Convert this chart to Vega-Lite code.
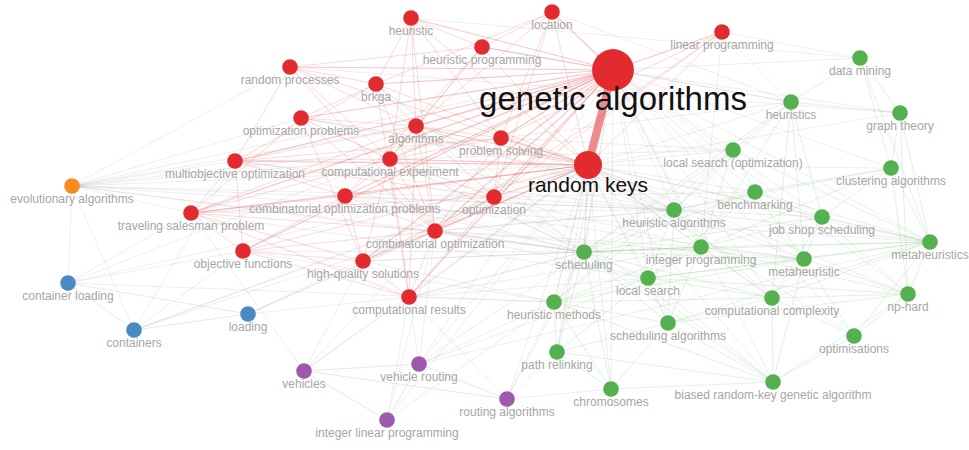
{
  "$schema": "https://vega.github.io/schema/vega-lite/v6.json",
  "width": 969,
  "height": 450,
  "autosize": {"type": "fit", "contains": "padding"},
  "padding": 0,
  "background": "white",
  "config": {"view": {"stroke": null}},
  "datasets": {
    "nodes": [
      {"n": "genetic algorithms", "c": "1", "x": 613, "y": 70, "w": 100},
      {"n": "random keys", "c": "1", "x": 588, "y": 165, "w": 45},
      {"n": "heuristic", "c": "1", "x": 411, "y": 18, "w": 14},
      {"n": "location", "c": "1", "x": 552, "y": 12, "w": 14},
      {"n": "heuristic programming", "c": "1", "x": 482, "y": 47, "w": 14},
      {"n": "linear programming", "c": "1", "x": 722, "y": 32, "w": 14},
      {"n": "random processes", "c": "1", "x": 290, "y": 67, "w": 14},
      {"n": "brkga", "c": "1", "x": 376, "y": 84, "w": 14},
      {"n": "optimization problems", "c": "1", "x": 301, "y": 118, "w": 14},
      {"n": "algorithms", "c": "1", "x": 416, "y": 126, "w": 14},
      {"n": "problem solving", "c": "1", "x": 501, "y": 138, "w": 14},
      {"n": "multiobjective optimization", "c": "1", "x": 235, "y": 161, "w": 14},
      {"n": "computational experiment", "c": "1", "x": 390, "y": 159, "w": 14},
      {"n": "optimization", "c": "1", "x": 494, "y": 197, "w": 14},
      {"n": "combinatorial optimization problems", "c": "1", "x": 345, "y": 196, "w": 14},
      {"n": "traveling salesman problem", "c": "1", "x": 191, "y": 213, "w": 14},
      {"n": "combinatorial optimization", "c": "1", "x": 435, "y": 231, "w": 14},
      {"n": "objective functions", "c": "1", "x": 243, "y": 251, "w": 14},
      {"n": "high-quality solutions", "c": "1", "x": 363, "y": 261, "w": 14},
      {"n": "computational results", "c": "1", "x": 409, "y": 297, "w": 14},
      {"n": "evolutionary algorithms", "c": "5", "x": 72, "y": 186, "w": 14},
      {"n": "container loading", "c": "3", "x": 68, "y": 283, "w": 14},
      {"n": "containers", "c": "3", "x": 134, "y": 330, "w": 14},
      {"n": "loading", "c": "3", "x": 248, "y": 314, "w": 14},
      {"n": "vehicles", "c": "4", "x": 304, "y": 371, "w": 14},
      {"n": "vehicle routing", "c": "4", "x": 419, "y": 364, "w": 14},
      {"n": "integer linear programming", "c": "4", "x": 387, "y": 420, "w": 14},
      {"n": "routing algorithms", "c": "4", "x": 507, "y": 399, "w": 14},
      {"n": "data mining", "c": "2", "x": 860, "y": 58, "w": 14},
      {"n": "heuristics", "c": "2", "x": 791, "y": 102, "w": 14},
      {"n": "graph theory", "c": "2", "x": 900, "y": 113, "w": 14},
      {"n": "local search (optimization)", "c": "2", "x": 733, "y": 150, "w": 14},
      {"n": "clustering algorithms", "c": "2", "x": 891, "y": 168, "w": 14},
      {"n": "benchmarking", "c": "2", "x": 755, "y": 192, "w": 14},
      {"n": "heuristic algorithms", "c": "2", "x": 674, "y": 210, "w": 14},
      {"n": "job shop scheduling", "c": "2", "x": 822, "y": 217, "w": 14},
      {"n": "metaheuristics", "c": "2", "x": 930, "y": 242, "w": 14},
      {"n": "scheduling", "c": "2", "x": 584, "y": 252, "w": 14},
      {"n": "integer programming", "c": "2", "x": 701, "y": 247, "w": 14},
      {"n": "metaheuristic", "c": "2", "x": 804, "y": 259, "w": 14},
      {"n": "local search", "c": "2", "x": 648, "y": 278, "w": 14},
      {"n": "np-hard", "c": "2", "x": 908, "y": 294, "w": 14},
      {"n": "heuristic methods", "c": "2", "x": 554, "y": 302, "w": 14},
      {"n": "computational complexity", "c": "2", "x": 772, "y": 298, "w": 14},
      {"n": "scheduling algorithms", "c": "2", "x": 668, "y": 323, "w": 14},
      {"n": "optimisations", "c": "2", "x": 854, "y": 336, "w": 14},
      {"n": "path relinking", "c": "2", "x": 557, "y": 352, "w": 14},
      {"n": "chromosomes", "c": "2", "x": 611, "y": 389, "w": 14},
      {"n": "biased random-key genetic algorithm", "c": "2", "x": 773, "y": 382, "w": 14}
    ],
    "edges": [
      {"s": "genetic algorithms", "t": "random keys", "w": 20},
      {"s": "genetic algorithms", "t": "heuristic", "w": 2},
      {"s": "genetic algorithms", "t": "location", "w": 2},
      {"s": "genetic algorithms", "t": "heuristic programming", "w": 2},
      {"s": "genetic algorithms", "t": "linear programming", "w": 2},
      {"s": "genetic algorithms", "t": "random processes", "w": 2},
      {"s": "genetic algorithms", "t": "brkga", "w": 2},
      {"s": "genetic algorithms", "t": "optimization problems", "w": 2},
      {"s": "genetic algorithms", "t": "algorithms", "w": 3},
      {"s": "genetic algorithms", "t": "problem solving", "w": 2},
      {"s": "genetic algorithms", "t": "multiobjective optimization", "w": 2},
      {"s": "genetic algorithms", "t": "computational experiment", "w": 2},
      {"s": "genetic algorithms", "t": "optimization", "w": 2},
      {"s": "genetic algorithms", "t": "combinatorial optimization problems", "w": 2},
      {"s": "genetic algorithms", "t": "traveling salesman problem", "w": 2},
      {"s": "genetic algorithms", "t": "combinatorial optimization", "w": 2},
      {"s": "genetic algorithms", "t": "objective functions", "w": 2},
      {"s": "genetic algorithms", "t": "high-quality solutions", "w": 2},
      {"s": "genetic algorithms", "t": "computational results", "w": 2},
      {"s": "random keys", "t": "heuristic", "w": 1},
      {"s": "random keys", "t": "location", "w": 1},
      {"s": "random keys", "t": "heuristic programming", "w": 1},
      {"s": "random keys", "t": "linear programming", "w": 1},
      {"s": "random keys", "t": "random processes", "w": 1},
      {"s": "random keys", "t": "brkga", "w": 1},
      {"s": "random keys", "t": "optimization problems", "w": 1},
      {"s": "random keys", "t": "algorithms", "w": 2},
      {"s": "random keys", "t": "problem solving", "w": 2},
      {"s": "random keys", "t": "multiobjective optimization", "w": 2},
      {"s": "random keys", "t": "computational experiment", "w": 2},
      {"s": "random keys", "t": "optimization", "w": 2},
      {"s": "random keys", "t": "combinatorial optimization problems", "w": 2},
      {"s": "random keys", "t": "traveling salesman problem", "w": 2},
      {"s": "random keys", "t": "combinatorial optimization", "w": 2},
      {"s": "random keys", "t": "objective functions", "w": 1},
      {"s": "random keys", "t": "high-quality solutions", "w": 1},
      {"s": "random keys", "t": "computational results", "w": 1},
      {"s": "heuristic", "t": "heuristic programming", "w": 1},
      {"s": "heuristic", "t": "algorithms", "w": 1},
      {"s": "heuristic", "t": "brkga", "w": 1},
      {"s": "heuristic", "t": "problem solving", "w": 1},
      {"s": "heuristic", "t": "combinatorial optimization", "w": 1},
      {"s": "heuristic", "t": "computational experiment", "w": 1},
      {"s": "location", "t": "heuristic programming", "w": 1},
      {"s": "location", "t": "algorithms", "w": 1},
      {"s": "location", "t": "problem solving", "w": 1},
      {"s": "location", "t": "brkga", "w": 1},
      {"s": "location", "t": "optimization", "w": 1},
      {"s": "heuristic programming", "t": "algorithms", "w": 1},
      {"s": "heuristic programming", "t": "computational experiment", "w": 1},
      {"s": "heuristic programming", "t": "combinatorial optimization problems", "w": 1},
      {"s": "heuristic programming", "t": "random processes", "w": 1},
      {"s": "linear programming", "t": "optimization", "w": 1},
      {"s": "linear programming", "t": "combinatorial optimization", "w": 1},
      {"s": "linear programming", "t": "problem solving", "w": 1},
      {"s": "random processes", "t": "brkga", "w": 1},
      {"s": "random processes", "t": "algorithms", "w": 1},
      {"s": "random processes", "t": "multiobjective optimization", "w": 1},
      {"s": "random processes", "t": "combinatorial optimization", "w": 1},
      {"s": "random processes", "t": "computational experiment", "w": 1},
      {"s": "brkga", "t": "algorithms", "w": 1},
      {"s": "brkga", "t": "optimization problems", "w": 1},
      {"s": "brkga", "t": "combinatorial optimization", "w": 1},
      {"s": "brkga", "t": "computational results", "w": 1},
      {"s": "brkga", "t": "multiobjective optimization", "w": 1},
      {"s": "optimization problems", "t": "algorithms", "w": 1},
      {"s": "optimization problems", "t": "computational experiment", "w": 1},
      {"s": "optimization problems", "t": "traveling salesman problem", "w": 1},
      {"s": "optimization problems", "t": "combinatorial optimization", "w": 1},
      {"s": "optimization problems", "t": "high-quality solutions", "w": 1},
      {"s": "algorithms", "t": "problem solving", "w": 1},
      {"s": "algorithms", "t": "computational experiment", "w": 1},
      {"s": "algorithms", "t": "optimization", "w": 1},
      {"s": "algorithms", "t": "combinatorial optimization", "w": 1},
      {"s": "algorithms", "t": "traveling salesman problem", "w": 1},
      {"s": "algorithms", "t": "multiobjective optimization", "w": 1},
      {"s": "algorithms", "t": "computational results", "w": 1},
      {"s": "problem solving", "t": "computational experiment", "w": 1},
      {"s": "problem solving", "t": "optimization", "w": 1},
      {"s": "problem solving", "t": "combinatorial optimization", "w": 1},
      {"s": "problem solving", "t": "multiobjective optimization", "w": 1},
      {"s": "multiobjective optimization", "t": "computational experiment", "w": 1},
      {"s": "multiobjective optimization", "t": "traveling salesman problem", "w": 1},
      {"s": "multiobjective optimization", "t": "combinatorial optimization problems", "w": 1},
      {"s": "multiobjective optimization", "t": "objective functions", "w": 1},
      {"s": "multiobjective optimization", "t": "optimization", "w": 1},
      {"s": "computational experiment", "t": "combinatorial optimization problems", "w": 1},
      {"s": "computational experiment", "t": "optimization", "w": 1},
      {"s": "computational experiment", "t": "combinatorial optimization", "w": 1},
      {"s": "computational experiment", "t": "high-quality solutions", "w": 1},
      {"s": "computational experiment", "t": "computational results", "w": 1},
      {"s": "computational experiment", "t": "traveling salesman problem", "w": 1},
      {"s": "optimization", "t": "combinatorial optimization", "w": 1},
      {"s": "optimization", "t": "computational results", "w": 1},
      {"s": "optimization", "t": "high-quality solutions", "w": 1},
      {"s": "optimization", "t": "traveling salesman problem", "w": 1},
      {"s": "combinatorial optimization problems", "t": "traveling salesman problem", "w": 1},
      {"s": "combinatorial optimization problems", "t": "combinatorial optimization", "w": 1},
      {"s": "combinatorial optimization problems", "t": "objective functions", "w": 1},
      {"s": "combinatorial optimization problems", "t": "high-quality solutions", "w": 1},
      {"s": "traveling salesman problem", "t": "combinatorial optimization", "w": 1},
      {"s": "traveling salesman problem", "t": "objective functions", "w": 1},
      {"s": "traveling salesman problem", "t": "computational results", "w": 1},
      {"s": "traveling salesman problem", "t": "high-quality solutions", "w": 1},
      {"s": "combinatorial optimization", "t": "high-quality solutions", "w": 1},
      {"s": "combinatorial optimization", "t": "computational results", "w": 1},
      {"s": "combinatorial optimization", "t": "objective functions", "w": 1},
      {"s": "objective functions", "t": "high-quality solutions", "w": 1},
      {"s": "objective functions", "t": "computational results", "w": 1},
      {"s": "high-quality solutions", "t": "computational results", "w": 1},
      {"s": "genetic algorithms", "t": "data mining", "w": 1},
      {"s": "genetic algorithms", "t": "heuristics", "w": 1},
      {"s": "genetic algorithms", "t": "graph theory", "w": 1},
      {"s": "genetic algorithms", "t": "local search (optimization)", "w": 1},
      {"s": "genetic algorithms", "t": "clustering algorithms", "w": 1},
      {"s": "genetic algorithms", "t": "benchmarking", "w": 1},
      {"s": "genetic algorithms", "t": "heuristic algorithms", "w": 1},
      {"s": "genetic algorithms", "t": "job shop scheduling", "w": 1},
      {"s": "genetic algorithms", "t": "metaheuristics", "w": 1},
      {"s": "genetic algorithms", "t": "scheduling", "w": 2},
      {"s": "genetic algorithms", "t": "integer programming", "w": 1},
      {"s": "genetic algorithms", "t": "metaheuristic", "w": 1},
      {"s": "genetic algorithms", "t": "local search", "w": 1},
      {"s": "genetic algorithms", "t": "np-hard", "w": 1},
      {"s": "genetic algorithms", "t": "heuristic methods", "w": 1},
      {"s": "genetic algorithms", "t": "computational complexity", "w": 1},
      {"s": "genetic algorithms", "t": "scheduling algorithms", "w": 1},
      {"s": "genetic algorithms", "t": "optimisations", "w": 1},
      {"s": "genetic algorithms", "t": "path relinking", "w": 1},
      {"s": "genetic algorithms", "t": "chromosomes", "w": 1},
      {"s": "genetic algorithms", "t": "biased random-key genetic algorithm", "w": 1},
      {"s": "genetic algorithms", "t": "evolutionary algorithms", "w": 1},
      {"s": "genetic algorithms", "t": "vehicle routing", "w": 1},
      {"s": "genetic algorithms", "t": "container loading", "w": 1},
      {"s": "random keys", "t": "heuristics", "w": 1},
      {"s": "random keys", "t": "local search (optimization)", "w": 1},
      {"s": "random keys", "t": "clustering algorithms", "w": 1},
      {"s": "random keys", "t": "benchmarking", "w": 1},
      {"s": "random keys", "t": "heuristic algorithms", "w": 2},
      {"s": "random keys", "t": "job shop scheduling", "w": 1},
      {"s": "random keys", "t": "metaheuristics", "w": 1},
      {"s": "random keys", "t": "scheduling", "w": 2},
      {"s": "random keys", "t": "integer programming", "w": 1},
      {"s": "random keys", "t": "metaheuristic", "w": 1},
      {"s": "random keys", "t": "local search", "w": 1},
      {"s": "random keys", "t": "np-hard", "w": 1},
      {"s": "random keys", "t": "heuristic methods", "w": 1},
      {"s": "random keys", "t": "computational complexity", "w": 1},
      {"s": "random keys", "t": "scheduling algorithms", "w": 1},
      {"s": "random keys", "t": "optimisations", "w": 1},
      {"s": "random keys", "t": "path relinking", "w": 1},
      {"s": "random keys", "t": "chromosomes", "w": 1},
      {"s": "random keys", "t": "biased random-key genetic algorithm", "w": 1},
      {"s": "random keys", "t": "evolutionary algorithms", "w": 1},
      {"s": "random keys", "t": "container loading", "w": 1},
      {"s": "random keys", "t": "containers", "w": 1},
      {"s": "random keys", "t": "loading", "w": 1},
      {"s": "random keys", "t": "vehicles", "w": 1},
      {"s": "random keys", "t": "vehicle routing", "w": 1},
      {"s": "random keys", "t": "integer linear programming", "w": 1},
      {"s": "random keys", "t": "routing algorithms", "w": 1},
      {"s": "random keys", "t": "graph theory", "w": 1},
      {"s": "evolutionary algorithms", "t": "multiobjective optimization", "w": 1},
      {"s": "evolutionary algorithms", "t": "traveling salesman problem", "w": 1},
      {"s": "evolutionary algorithms", "t": "optimization problems", "w": 1},
      {"s": "evolutionary algorithms", "t": "algorithms", "w": 1},
      {"s": "evolutionary algorithms", "t": "computational experiment", "w": 1},
      {"s": "evolutionary algorithms", "t": "random processes", "w": 1},
      {"s": "evolutionary algorithms", "t": "container loading", "w": 1},
      {"s": "evolutionary algorithms", "t": "containers", "w": 1},
      {"s": "evolutionary algorithms", "t": "combinatorial optimization", "w": 1},
      {"s": "evolutionary algorithms", "t": "scheduling", "w": 1},
      {"s": "evolutionary algorithms", "t": "heuristic algorithms", "w": 1},
      {"s": "evolutionary algorithms", "t": "metaheuristics", "w": 1},
      {"s": "evolutionary algorithms", "t": "problem solving", "w": 1},
      {"s": "evolutionary algorithms", "t": "optimization", "w": 1},
      {"s": "container loading", "t": "traveling salesman problem", "w": 1},
      {"s": "container loading", "t": "objective functions", "w": 1},
      {"s": "containers", "t": "objective functions", "w": 1},
      {"s": "containers", "t": "combinatorial optimization", "w": 1},
      {"s": "containers", "t": "multiobjective optimization", "w": 1},
      {"s": "containers", "t": "optimization", "w": 1},
      {"s": "loading", "t": "combinatorial optimization", "w": 1},
      {"s": "loading", "t": "computational results", "w": 1},
      {"s": "loading", "t": "optimization", "w": 1},
      {"s": "container loading", "t": "heuristic methods", "w": 1},
      {"s": "vehicles", "t": "high-quality solutions", "w": 1},
      {"s": "vehicles", "t": "combinatorial optimization", "w": 1},
      {"s": "vehicles", "t": "computational results", "w": 1},
      {"s": "vehicles", "t": "traveling salesman problem", "w": 1},
      {"s": "vehicle routing", "t": "computational results", "w": 1},
      {"s": "vehicle routing", "t": "combinatorial optimization", "w": 1},
      {"s": "vehicle routing", "t": "heuristic methods", "w": 1},
      {"s": "vehicle routing", "t": "scheduling", "w": 1},
      {"s": "vehicle routing", "t": "local search", "w": 1},
      {"s": "vehicle routing", "t": "metaheuristics", "w": 1},
      {"s": "routing algorithms", "t": "computational results", "w": 1},
      {"s": "routing algorithms", "t": "heuristic methods", "w": 1},
      {"s": "routing algorithms", "t": "path relinking", "w": 1},
      {"s": "routing algorithms", "t": "scheduling", "w": 1},
      {"s": "routing algorithms", "t": "chromosomes", "w": 1},
      {"s": "integer linear programming", "t": "computational results", "w": 1},
      {"s": "integer linear programming", "t": "combinatorial optimization", "w": 1},
      {"s": "integer linear programming", "t": "heuristic methods", "w": 1},
      {"s": "combinatorial optimization", "t": "scheduling", "w": 3},
      {"s": "combinatorial optimization", "t": "heuristic algorithms", "w": 2},
      {"s": "combinatorial optimization", "t": "integer programming", "w": 1},
      {"s": "combinatorial optimization", "t": "metaheuristic", "w": 1},
      {"s": "combinatorial optimization", "t": "local search", "w": 1},
      {"s": "computational results", "t": "scheduling", "w": 2},
      {"s": "computational results", "t": "heuristic methods", "w": 1},
      {"s": "computational results", "t": "local search", "w": 1},
      {"s": "computational results", "t": "integer programming", "w": 1},
      {"s": "optimization", "t": "scheduling", "w": 1},
      {"s": "optimization", "t": "heuristic algorithms", "w": 1},
      {"s": "optimization", "t": "benchmarking", "w": 1},
      {"s": "problem solving", "t": "local search (optimization)", "w": 1},
      {"s": "problem solving", "t": "heuristics", "w": 1},
      {"s": "problem solving", "t": "heuristic algorithms", "w": 1},
      {"s": "algorithms", "t": "scheduling", "w": 1},
      {"s": "algorithms", "t": "heuristic algorithms", "w": 1},
      {"s": "computational experiment", "t": "heuristic algorithms", "w": 1},
      {"s": "computational experiment", "t": "scheduling", "w": 1},
      {"s": "computational experiment", "t": "local search (optimization)", "w": 1},
      {"s": "high-quality solutions", "t": "scheduling", "w": 1},
      {"s": "high-quality solutions", "t": "heuristic methods", "w": 1},
      {"s": "high-quality solutions", "t": "integer programming", "w": 1},
      {"s": "combinatorial optimization problems", "t": "scheduling", "w": 1},
      {"s": "combinatorial optimization problems", "t": "metaheuristic", "w": 1},
      {"s": "combinatorial optimization problems", "t": "heuristic algorithms", "w": 1},
      {"s": "traveling salesman problem", "t": "heuristic algorithms", "w": 1},
      {"s": "traveling salesman problem", "t": "local search", "w": 1},
      {"s": "multiobjective optimization", "t": "scheduling", "w": 1},
      {"s": "multiobjective optimization", "t": "heuristic algorithms", "w": 1},
      {"s": "optimization problems", "t": "metaheuristics", "w": 1},
      {"s": "optimization problems", "t": "scheduling", "w": 1},
      {"s": "linear programming", "t": "heuristics", "w": 1},
      {"s": "linear programming", "t": "data mining", "w": 1},
      {"s": "linear programming", "t": "integer programming", "w": 1},
      {"s": "heuristic programming", "t": "heuristics", "w": 1},
      {"s": "location", "t": "heuristics", "w": 1},
      {"s": "heuristic", "t": "data mining", "w": 1},
      {"s": "brkga", "t": "scheduling", "w": 1},
      {"s": "brkga", "t": "biased random-key genetic algorithm", "w": 1},
      {"s": "objective functions", "t": "scheduling", "w": 1},
      {"s": "objective functions", "t": "heuristic methods", "w": 1},
      {"s": "random processes", "t": "graph theory", "w": 1},
      {"s": "optimization", "t": "integer programming", "w": 1},
      {"s": "algorithms", "t": "metaheuristic", "w": 1},
      {"s": "data mining", "t": "heuristics", "w": 1},
      {"s": "data mining", "t": "graph theory", "w": 1},
      {"s": "data mining", "t": "clustering algorithms", "w": 1},
      {"s": "data mining", "t": "metaheuristics", "w": 1},
      {"s": "heuristics", "t": "graph theory", "w": 1},
      {"s": "heuristics", "t": "local search (optimization)", "w": 1},
      {"s": "heuristics", "t": "heuristic algorithms", "w": 1},
      {"s": "heuristics", "t": "integer programming", "w": 1},
      {"s": "heuristics", "t": "scheduling", "w": 1},
      {"s": "heuristics", "t": "metaheuristic", "w": 1},
      {"s": "heuristics", "t": "computational complexity", "w": 1},
      {"s": "heuristics", "t": "job shop scheduling", "w": 1},
      {"s": "graph theory", "t": "clustering algorithms", "w": 1},
      {"s": "graph theory", "t": "metaheuristics", "w": 1},
      {"s": "graph theory", "t": "np-hard", "w": 1},
      {"s": "local search (optimization)", "t": "benchmarking", "w": 1},
      {"s": "local search (optimization)", "t": "heuristic algorithms", "w": 1},
      {"s": "local search (optimization)", "t": "scheduling", "w": 1},
      {"s": "local search (optimization)", "t": "integer programming", "w": 1},
      {"s": "local search (optimization)", "t": "metaheuristics", "w": 1},
      {"s": "local search (optimization)", "t": "heuristic methods", "w": 1},
      {"s": "clustering algorithms", "t": "benchmarking", "w": 1},
      {"s": "clustering algorithms", "t": "job shop scheduling", "w": 1},
      {"s": "clustering algorithms", "t": "metaheuristics", "w": 1},
      {"s": "clustering algorithms", "t": "heuristic algorithms", "w": 1},
      {"s": "clustering algorithms", "t": "np-hard", "w": 1},
      {"s": "clustering algorithms", "t": "integer programming", "w": 1},
      {"s": "benchmarking", "t": "heuristic algorithms", "w": 1},
      {"s": "benchmarking", "t": "job shop scheduling", "w": 1},
      {"s": "benchmarking", "t": "metaheuristic", "w": 1},
      {"s": "benchmarking", "t": "scheduling", "w": 1},
      {"s": "benchmarking", "t": "local search", "w": 1},
      {"s": "benchmarking", "t": "metaheuristics", "w": 1},
      {"s": "heuristic algorithms", "t": "scheduling", "w": 1},
      {"s": "heuristic algorithms", "t": "integer programming", "w": 1},
      {"s": "heuristic algorithms", "t": "job shop scheduling", "w": 1},
      {"s": "heuristic algorithms", "t": "metaheuristics", "w": 1},
      {"s": "heuristic algorithms", "t": "local search", "w": 1},
      {"s": "heuristic algorithms", "t": "heuristic methods", "w": 1},
      {"s": "heuristic algorithms", "t": "scheduling algorithms", "w": 1},
      {"s": "heuristic algorithms", "t": "computational complexity", "w": 1},
      {"s": "job shop scheduling", "t": "metaheuristics", "w": 1},
      {"s": "job shop scheduling", "t": "metaheuristic", "w": 1},
      {"s": "job shop scheduling", "t": "scheduling", "w": 1},
      {"s": "job shop scheduling", "t": "integer programming", "w": 1},
      {"s": "job shop scheduling", "t": "np-hard", "w": 1},
      {"s": "job shop scheduling", "t": "computational complexity", "w": 1},
      {"s": "metaheuristics", "t": "scheduling", "w": 1},
      {"s": "metaheuristics", "t": "integer programming", "w": 1},
      {"s": "metaheuristics", "t": "metaheuristic", "w": 1},
      {"s": "metaheuristics", "t": "np-hard", "w": 1},
      {"s": "metaheuristics", "t": "local search", "w": 1},
      {"s": "metaheuristics", "t": "computational complexity", "w": 1},
      {"s": "metaheuristics", "t": "optimisations", "w": 1},
      {"s": "metaheuristics", "t": "scheduling algorithms", "w": 1},
      {"s": "scheduling", "t": "integer programming", "w": 2},
      {"s": "scheduling", "t": "local search", "w": 1},
      {"s": "scheduling", "t": "heuristic methods", "w": 1},
      {"s": "scheduling", "t": "metaheuristic", "w": 1},
      {"s": "scheduling", "t": "scheduling algorithms", "w": 1},
      {"s": "scheduling", "t": "path relinking", "w": 1},
      {"s": "scheduling", "t": "chromosomes", "w": 1},
      {"s": "scheduling", "t": "biased random-key genetic algorithm", "w": 1},
      {"s": "scheduling", "t": "computational complexity", "w": 1},
      {"s": "integer programming", "t": "metaheuristic", "w": 1},
      {"s": "integer programming", "t": "local search", "w": 1},
      {"s": "integer programming", "t": "computational complexity", "w": 1},
      {"s": "integer programming", "t": "scheduling algorithms", "w": 1},
      {"s": "integer programming", "t": "heuristic methods", "w": 1},
      {"s": "integer programming", "t": "np-hard", "w": 1},
      {"s": "metaheuristic", "t": "local search", "w": 1},
      {"s": "metaheuristic", "t": "np-hard", "w": 1},
      {"s": "metaheuristic", "t": "computational complexity", "w": 1},
      {"s": "metaheuristic", "t": "optimisations", "w": 1},
      {"s": "metaheuristic", "t": "biased random-key genetic algorithm", "w": 1},
      {"s": "metaheuristic", "t": "heuristic methods", "w": 1},
      {"s": "local search", "t": "heuristic methods", "w": 1},
      {"s": "local search", "t": "scheduling algorithms", "w": 1},
      {"s": "local search", "t": "path relinking", "w": 1},
      {"s": "local search", "t": "computational complexity", "w": 1},
      {"s": "local search", "t": "biased random-key genetic algorithm", "w": 1},
      {"s": "local search", "t": "np-hard", "w": 1},
      {"s": "np-hard", "t": "computational complexity", "w": 1},
      {"s": "np-hard", "t": "optimisations", "w": 1},
      {"s": "np-hard", "t": "scheduling algorithms", "w": 1},
      {"s": "np-hard", "t": "biased random-key genetic algorithm", "w": 1},
      {"s": "heuristic methods", "t": "path relinking", "w": 1},
      {"s": "heuristic methods", "t": "scheduling algorithms", "w": 1},
      {"s": "heuristic methods", "t": "chromosomes", "w": 1},
      {"s": "heuristic methods", "t": "computational complexity", "w": 1},
      {"s": "heuristic methods", "t": "biased random-key genetic algorithm", "w": 1},
      {"s": "computational complexity", "t": "scheduling algorithms", "w": 1},
      {"s": "computational complexity", "t": "optimisations", "w": 1},
      {"s": "computational complexity", "t": "biased random-key genetic algorithm", "w": 1},
      {"s": "scheduling algorithms", "t": "path relinking", "w": 1},
      {"s": "scheduling algorithms", "t": "chromosomes", "w": 1},
      {"s": "scheduling algorithms", "t": "biased random-key genetic algorithm", "w": 1},
      {"s": "optimisations", "t": "biased random-key genetic algorithm", "w": 1},
      {"s": "path relinking", "t": "chromosomes", "w": 1},
      {"s": "path relinking", "t": "biased random-key genetic algorithm", "w": 1},
      {"s": "chromosomes", "t": "biased random-key genetic algorithm", "w": 1},
      {"s": "container loading", "t": "containers", "w": 1},
      {"s": "container loading", "t": "loading", "w": 1},
      {"s": "containers", "t": "loading", "w": 1},
      {"s": "vehicles", "t": "vehicle routing", "w": 1},
      {"s": "vehicles", "t": "integer linear programming", "w": 1},
      {"s": "vehicle routing", "t": "integer linear programming", "w": 1},
      {"s": "vehicle routing", "t": "routing algorithms", "w": 1},
      {"s": "vehicles", "t": "routing algorithms", "w": 1}
    ]
  },
  "layer": [
    {
      "data": {"name": "edges"},
      "transform": [
        {"lookup": "s", "from": {"data": {"name": "nodes"}, "key": "n", "fields": ["x", "y", "c"]}, "as": ["x1", "y1", "c1"]},
        {"lookup": "t", "from": {"data": {"name": "nodes"}, "key": "n", "fields": ["x", "y", "c"]}, "as": ["x2", "y2", "c2"]}
      ],
      "mark": {"type": "rule", "strokeCap": "round"},
      "encoding": {
        "x": {"field": "x1", "type": "quantitative", "scale": {"domain": [0, 969], "nice": false, "zero": false}, "axis": null},
        "y": {"field": "y1", "type": "quantitative", "scale": {"domain": [0, 450], "nice": false, "zero": false, "reverse": true}, "axis": null},
        "x2": {"field": "x2"},
        "y2": {"field": "y2"},
        "color": {
          "condition": {"test": "datum.c1 !== datum.c2", "value": "#9a9a9a"},
          "field": "c1", "type": "nominal",
          "scale": {"domain": ["1", "2", "3", "4", "5"], "range": ["#e22b2f", "#55b150", "#4a89c2", "#9d5aaa", "#f68b1f"]},
          "legend": null
        },
        "strokeWidth": {"field": "w", "type": "quantitative", "scale": {"domain": [1, 20], "range": [0.7, 8]}, "legend": null},
        "opacity": {"field": "w", "type": "quantitative", "scale": {"domain": [1, 20], "range": [0.25, 0.55]}, "legend": null}
      }
    },
    {
      "data": {"name": "nodes"},
      "mark": {"type": "circle", "opacity": 1},
      "encoding": {
        "x": {"field": "x", "type": "quantitative"},
        "y": {"field": "y", "type": "quantitative"},
        "size": {"field": "w", "type": "quantitative", "scale": {"type": "linear", "domain": [0, 100], "range": [0, 1750], "zero": true}, "legend": null},
        "color": {"field": "c", "type": "nominal", "legend": null}
      }
    },
    {
      "data": {"name": "nodes"},
      "transform": [{"filter": "datum.w < 40"}],
      "mark": {"type": "text", "font": "Liberation Sans", "fontSize": 12, "dy": 13, "baseline": "middle", "align": "center", "fill": "#a6a6a6"},
      "encoding": {
        "x": {"field": "x", "type": "quantitative"},
        "y": {"field": "y", "type": "quantitative"},
        "text": {"field": "n"}
      }
    },
    {
      "data": {"name": "nodes"},
      "transform": [{"filter": "datum.n === 'genetic algorithms'"}],
      "mark": {"type": "text", "font": "Liberation Sans", "fontSize": 33, "dy": 30, "baseline": "middle", "align": "center", "fill": "#111111"},
      "encoding": {
        "x": {"field": "x", "type": "quantitative"},
        "y": {"field": "y", "type": "quantitative"},
        "text": {"field": "n"}
      }
    },
    {
      "data": {"name": "nodes"},
      "transform": [{"filter": "datum.n === 'random keys'"}],
      "mark": {"type": "text", "font": "Liberation Sans", "fontSize": 21, "dy": 21, "baseline": "middle", "align": "center", "fill": "#111111"},
      "encoding": {
        "x": {"field": "x", "type": "quantitative"},
        "y": {"field": "y", "type": "quantitative"},
        "text": {"field": "n"}
      }
    }
  ]
}
